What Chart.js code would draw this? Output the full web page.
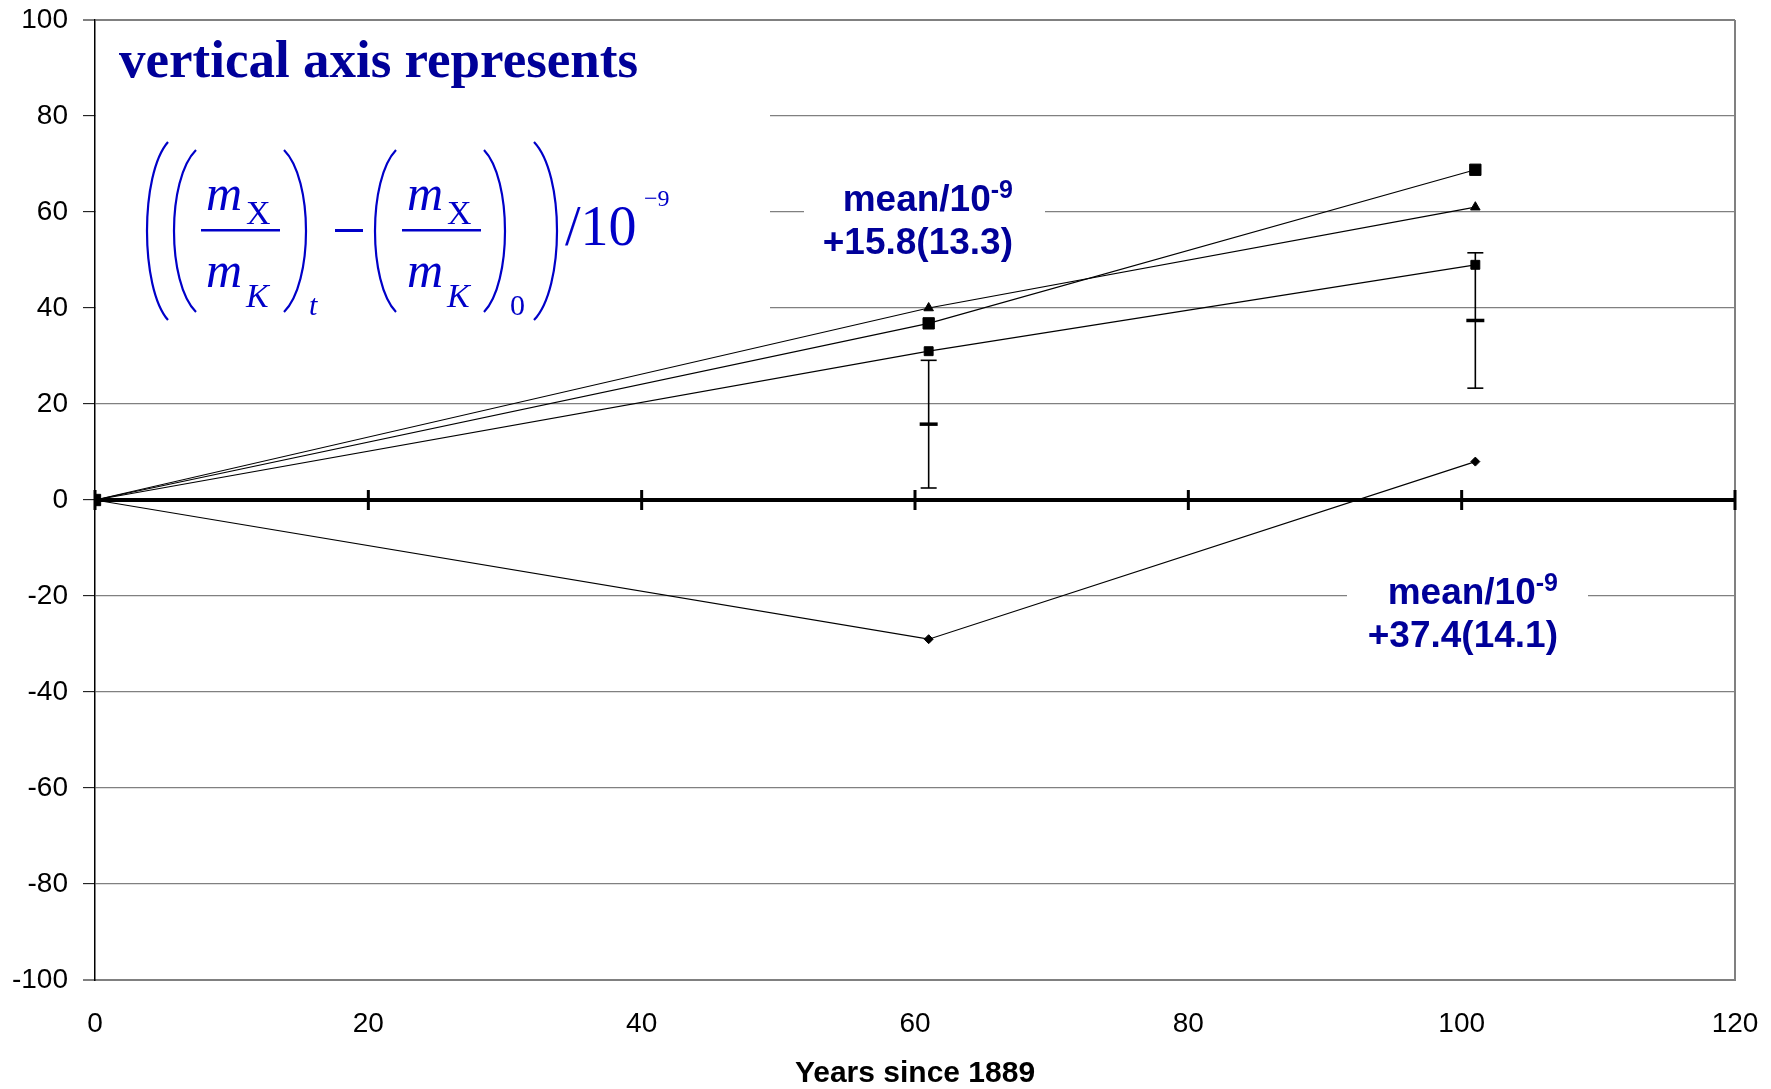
<!DOCTYPE html>
<html>
<head>
<meta charset="utf-8">
<script src="https://cdn.jsdelivr.net/npm/chart.js@4"></script>
<style>
  body { margin: 0; background: #fff; }
  #chart { display: block; }
</style>
</head>
<body>
<canvas id="chart" width="1771" height="1089"></canvas>
<script>
// years since 1889 at which the comparisons were made
var years = [0, 61, 101];
// four copies, values in units of 1e-9
var copyBigSquare = [0, 36.8, 68.8];
var copyTriangle = [0, 40.0, 61.0];
var copySmallSquare = [0, 31.0, 49.0];
var copyDiamond = [0, -29.0, 8.0];
// mean (standard deviation) per verification
var meanYears = [61, 101];
var meanValues = [15.8, 37.4];
var meanSd = [13.3, 14.1];
var meanLabels = ['+15.8(13.3)', '+37.4(14.1)'];
var xTickStep = 20;

var SANS = "'Liberation Sans', Arial, sans-serif";
var SERIF = "'Liberation Serif', 'Times New Roman', serif";

function points(ys) {
    return years.map(function (x, i) { return { x: x, y: ys[i] }; });
}

function copyDataset(ys, style, radius) {
    return {
        data: points(ys),
        showLine: true,
        borderColor: '#000',
        borderWidth: 1.2,
        pointStyle: style,
        pointRadius: radius,
        pointBackgroundColor: '#000',
        pointBorderColor: '#000',
        pointBorderWidth: 1
    };
}

var datasets = [
    copyDataset(copyBigSquare, 'rect', 8),
    copyDataset(copyTriangle, 'triangle', 5.5),
    copyDataset(copySmallSquare, 'rect', 6.3),
    copyDataset(copyDiamond, 'rectRot', 4.5)
];

// error bars: one vertical segment with caps for each verification
meanYears.forEach(function (yr, i) {
    datasets.push({
        data: [{ x: yr, y: meanValues[i] - meanSd[i] }, { x: yr, y: meanValues[i] + meanSd[i] }],
        showLine: true,
        borderColor: '#000',
        borderWidth: 1.6,
        pointStyle: 'line',
        pointRadius: 8,
        pointBorderColor: '#000',
        pointBorderWidth: 1.6
    });
    datasets.push({
        data: [{ x: yr, y: meanValues[i] }],
        showLine: false,
        pointStyle: 'line',
        pointRadius: 9,
        pointBorderColor: '#000',
        pointBorderWidth: 3.5
    });
});

function paren(ctx, xEnd, xExtreme, yTop, yBot) {
    var h = yBot - yTop;
    var cx = xEnd + (xExtreme - xEnd) / 0.75;
    ctx.beginPath();
    ctx.moveTo(xEnd, yTop);
    ctx.bezierCurveTo(cx, yTop + h * 0.18, cx, yBot - h * 0.18, xEnd, yBot);
    ctx.stroke();
}

function fraction(ctx, x) {
    ctx.textAlign = 'left';
    ctx.font = 'italic 50px ' + SERIF;
    ctx.fillText('m', x + 5, 210);
    ctx.fillText('m', x + 5, 287);
    ctx.font = '34px ' + SERIF;
    ctx.fillText('X', x + 45, 224);
    ctx.font = 'italic 34px ' + SERIF;
    ctx.fillText('K', x + 45, 307);
    ctx.fillRect(x, 229, 79, 2.5);
}

function meanNote(ctx, right, base, label) {
    ctx.fillStyle = '#000099';
    ctx.textAlign = 'right';
    ctx.font = 'bold 25px ' + SANS;
    var supW = ctx.measureText('-9').width;
    ctx.fillText('-9', right, base - 13);
    ctx.font = 'bold 37px ' + SANS;
    ctx.fillText('mean/10', right - supW, base);
    ctx.fillText(label, right, base + 43);
}

var notesPlugin = {
    id: 'notes',
    beforeDatasetsDraw: function (chart) {
        var ctx = chart.ctx;
        ctx.save();
        // white boxes behind the annotations hide the gridlines
        ctx.fillStyle = '#fff';
        ctx.fillRect(96, 21, 674, 309);
        ctx.fillRect(804, 175, 241, 87);
        ctx.fillRect(1347, 565, 241, 90);

        ctx.textBaseline = 'alphabetic';
        ctx.fillStyle = '#000099';
        ctx.textAlign = 'left';
        ctx.font = 'bold 53px ' + SERIF;
        ctx.fillText('vertical axis represents', 119, 77);

        // ((mX/mK)t - (mX/mK)0) / 10^-9
        ctx.fillStyle = '#0000c8';
        ctx.strokeStyle = '#0000c8';
        ctx.lineWidth = 2.2;
        paren(ctx, 168, 147, 142, 320);
        paren(ctx, 196, 174, 150, 312);
        fraction(ctx, 201);
        paren(ctx, 284, 306, 150, 312);
        ctx.font = 'italic 30px ' + SERIF;
        ctx.fillText('t', 309, 315);
        ctx.fillRect(335, 229, 28, 3);
        paren(ctx, 396, 375, 150, 312);
        fraction(ctx, 402);
        paren(ctx, 484, 505, 150, 312);
        ctx.font = '30px ' + SERIF;
        ctx.fillText('0', 510, 315);
        paren(ctx, 534, 557, 142, 320);
        ctx.font = '56px ' + SERIF;
        ctx.fillText('/10', 565, 245);
        ctx.font = '24px ' + SERIF;
        ctx.fillText('\u22129', 644, 206);

        meanNote(ctx, 1013, 211, meanLabels[0]);
        meanNote(ctx, 1558, 604, meanLabels[1]);
        ctx.restore();
    },
    afterDatasetsDraw: function (chart) {
        // heavy horizontal axis through zero with crossing tick marks
        var ctx = chart.ctx;
        var xs = chart.scales.x, ys = chart.scales.y;
        var y0 = ys.getPixelForValue(0);
        ctx.save();
        ctx.strokeStyle = '#000';
        ctx.lineWidth = 4;
        ctx.beginPath();
        ctx.moveTo(chart.chartArea.left, y0);
        ctx.lineTo(chart.chartArea.right, y0);
        ctx.stroke();
        ctx.lineWidth = 3;
        for (var v = xs.min; v <= xs.max; v += xTickStep) {
            var px = xs.getPixelForValue(v);
            ctx.beginPath();
            ctx.moveTo(px, y0 - 10);
            ctx.lineTo(px, y0 + 10);
            ctx.stroke();
        }
        ctx.restore();
    }
};

var chart = new Chart(document.getElementById('chart').getContext('2d'), {
    type: 'scatter',
    data: { datasets: datasets },
    plugins: [notesPlugin],
    options: {
        responsive: false,
        animation: false,
        layout: { padding: { top: 20, right: 36, left: 0, bottom: 0 } },
        plugins: {
            legend: { display: false },
            tooltip: { enabled: false }
        },
        scales: {
            x: {
                type: 'linear',
                min: 0,
                max: 120,
                ticks: {
                    stepSize: xTickStep,
                    color: '#000',
                    font: { family: SANS, size: 28 },
                    padding: 0,
                    maxRotation: 0
                },
                grid: {
                    drawTicks: true,
                    tickLength: 27,
                    tickColor: 'rgba(0,0,0,0)',
                    color: function (c) { return c.tick && c.tick.value === 120 ? '#808080' : 'rgba(0,0,0,0)'; },
                    lineWidth: 2
                },
                border: { display: true, color: '#808080', width: 2 },
                title: {
                    display: true,
                    text: 'Years since 1889',
                    color: '#000',
                    font: { family: SANS, size: 30, weight: 'bold', lineHeight: 1.05 },
                    padding: { top: 0, bottom: 0 }
                },
                afterFit: function (scale) { scale.height = 109; }
            },
            y: {
                min: -100,
                max: 100,
                ticks: {
                    stepSize: 20,
                    color: '#000',
                    font: { family: SANS, size: 28, lineHeight: 0.3 },
                    padding: 15
                },
                grid: {
                    color: function (c) { return c.tick && c.tick.value === 0 ? 'rgba(0,0,0,0)' : '#808080'; },
                    lineWidth: function (c) { return c.tick && Math.abs(c.tick.value) === 100 ? 2 : 1.3; },
                    tickColor: '#000',
                    tickLength: 12,
                    tickWidth: 1
                },
                border: { display: true, color: '#000', width: 1.5 },
                afterFit: function (scale) { scale.width = 95; }
            }
        }
    }
});
</script>
</body>
</html>
